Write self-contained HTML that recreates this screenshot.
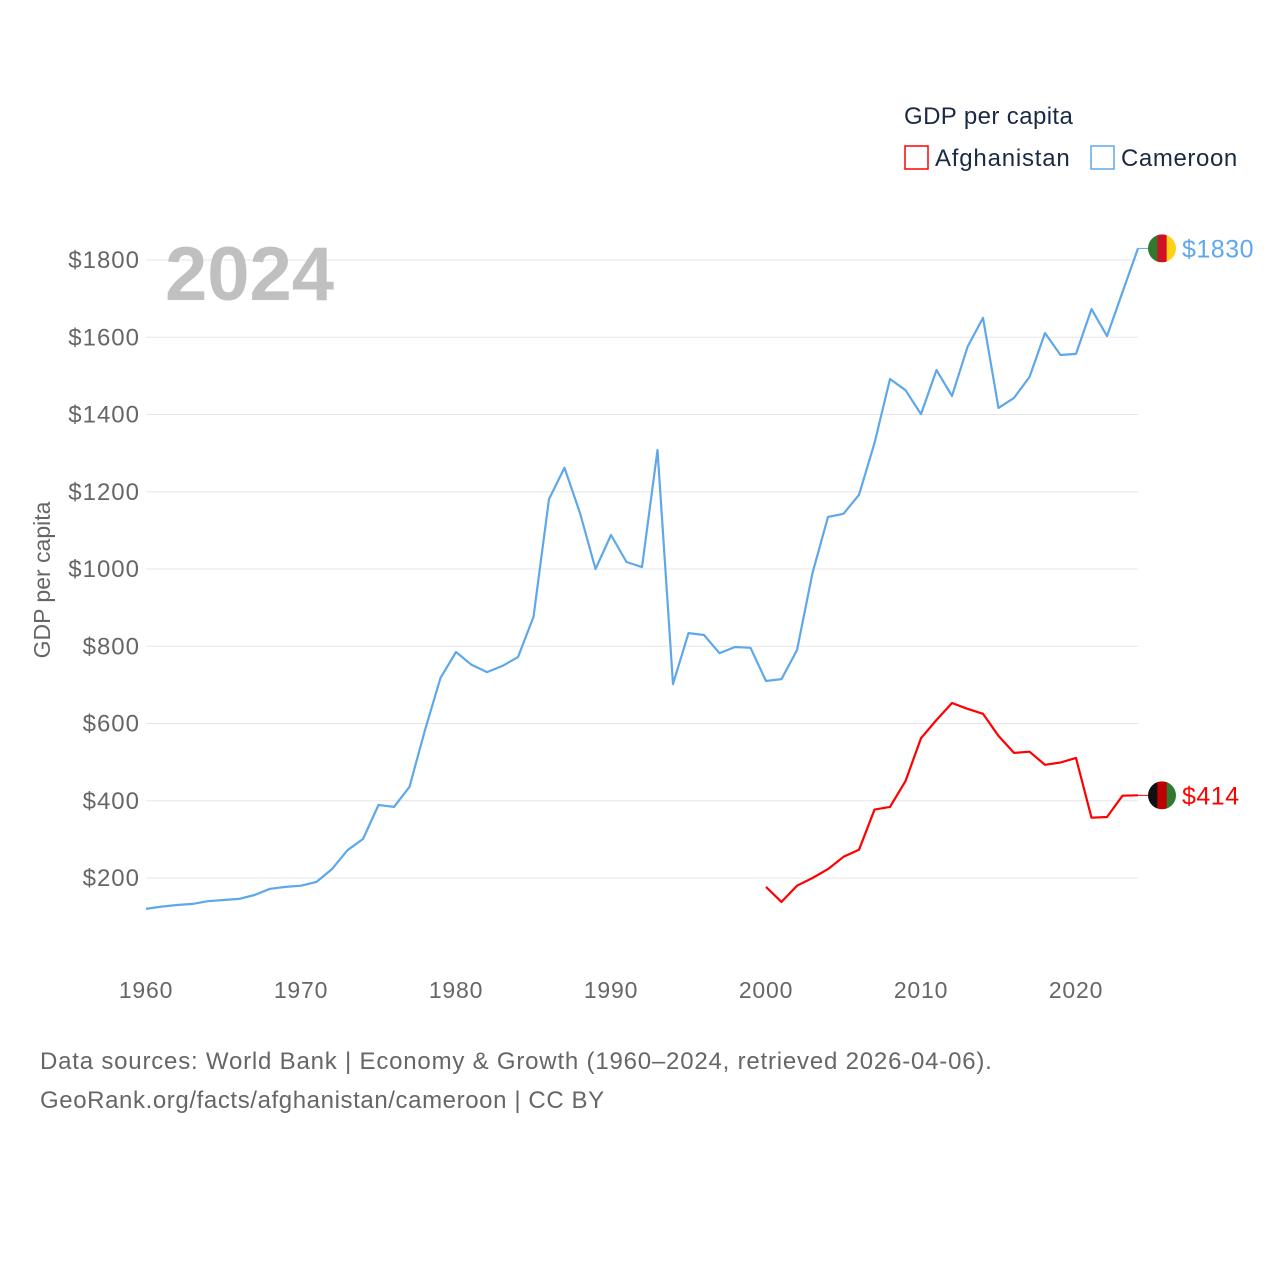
<!DOCTYPE html>
<html><head><meta charset="utf-8"><style>
body{margin:0;background:#fff;font-family:"Liberation Sans",sans-serif}
svg text{font-family:"Liberation Sans",sans-serif}
</style></head><body>
<svg id="chart" width="1280" height="1280" viewBox="0 0 1280 1280">
<g id="grid"></g>
<g id="yticks"></g>
<g id="xticks"></g>
<text x="165" y="300" font-size="76" font-weight="bold" fill="#c0c0c0">2024</text>
<text transform="translate(50,580) rotate(-90)" text-anchor="middle" font-size="23" fill="#666">GDP per capita</text>
<g id="series"></g>
<g>
<text x="904" y="124" font-size="24" fill="#1a2a44" letter-spacing="0.4">GDP per capita</text>
<rect x="905" y="146" width="23" height="23" fill="none" stroke="#ff0000" stroke-width="1.5"/>
<text x="935" y="166" font-size="24" fill="#1a2a44" letter-spacing="0.8">Afghanistan</text>
<rect x="1091" y="146" width="23" height="23" fill="none" stroke="#5ea8ea" stroke-width="1.5"/>
<text x="1121" y="166" font-size="24" fill="#1a2a44" letter-spacing="0.6">Cameroon</text>
</g>
<text x="40" y="1069" font-size="24" fill="#666" letter-spacing="0.8">Data sources: World Bank | Economy &amp; Growth (1960–2024, retrieved 2026-04-06).</text>
<text x="40" y="1108" font-size="24" fill="#666" letter-spacing="0.6">GeoRank.org/facts/afghanistan/cameroon | CC BY</text>
</svg>
<script>
const camYears=[];for(let y=1960;y<=2024;y++)camYears.push(y);
const camValues=[120,126,130,133,140,143,146,156,172,177,180,190,223,272,301,389,384,436,583,718,785,752,733,749,772,876,1181,1262,1145,1000,1088,1018,1005,1308,702,834,829,782,798,796,710,715,790,990,1135,1143,1192,1326,1492,1463,1401,1515,1448,1575,1650,1417,1443,1497,1611,1554,1557,1673,1603,1717,1830];
const afgYears=[];for(let y=2000;y<=2024;y++)afgYears.push(y);
const afgValues=[177,138,180,200,223,255,273,377,384,451,562,609,653,638,625,568,524,527,493,499,511,356,358,413,414];
const yTicks=[200,400,600,800,1000,1200,1400,1600,1800];
const xTicks=[1960,1970,1980,1990,2000,2010,2020];
const NS="http://www.w3.org/2000/svg";
const xs=y=>146+(y-1960)*15.5;
const ys=v=>955.25-v*0.38625;
function mk(tag,attrs,parent){const e=document.createElementNS(NS,tag);for(const k in attrs)e.setAttribute(k,attrs[k]);parent.appendChild(e);return e;}
const grid=document.getElementById('grid'),yt=document.getElementById('yticks'),xt=document.getElementById('xticks'),ser=document.getElementById('series');
yTicks.forEach(v=>{
 const l=mk('line',{x1:146,x2:1138,y1:ys(v),y2:ys(v),stroke:'#e6e6e6','stroke-width':1},grid);
 
 
 const t=mk('text',{x:140,y:ys(v)+8,'text-anchor':'end','font-size':24,'letter-spacing':1,fill:'#666'},yt);
 t.textContent='$'+v;
 
 
});
xTicks.forEach(v=>{
 const t=mk('text',{x:xs(v),y:998,'text-anchor':'middle','font-size':23,'letter-spacing':0.8,fill:'#666'},xt);
 t.textContent=v;
 
 
});
function line(years,vals,color,name,label,flag){
 const d=years.map((y,i)=>(i?'L':'M')+xs(y).toFixed(1)+','+ys(vals[i]).toFixed(1)).join('');
 const p=mk('path',{d:d,fill:'none',stroke:color,'stroke-width':2.2,'stroke-linejoin':'round'},ser);
 
 
 const lv=vals[vals.length-1],ly=ys(lv),lx=xs(years[years.length-1]);
 const c=mk('line',{x1:lx,x2:1150,y1:ly,y2:ly,stroke:color,'stroke-width':1},ser);
 
 
 const g=mk('g',{},ser);
 
 
 const cp=mk('clipPath',{id:'cp'+name},g);mk('circle',{cx:1162,cy:ly,r:14},cp);
 const gg=mk('g',{'clip-path':'url(#cp'+name+')'},g);
 flag.forEach((col,i)=>mk('rect',{x:1148+i*28/3,y:ly-14,width:28/3+0.5,height:28,fill:col},gg));
 const t=mk('text',{x:1182,y:ly+9,'font-size':25,'letter-spacing':0.5,fill:color},ser);
 t.textContent='$'+label;
 
 
}
line(camYears,camValues,'#5ea8ea','cameroon',Math.round(camValues[camValues.length-1]),['#2f7a2f','#ce1126','#fcd116']);
line(afgYears,afgValues,'#ff0000','afghanistan',Math.round(afgValues[afgValues.length-1]),['#111','#be0000','#2f7a2f']);
</script>
</body></html>
